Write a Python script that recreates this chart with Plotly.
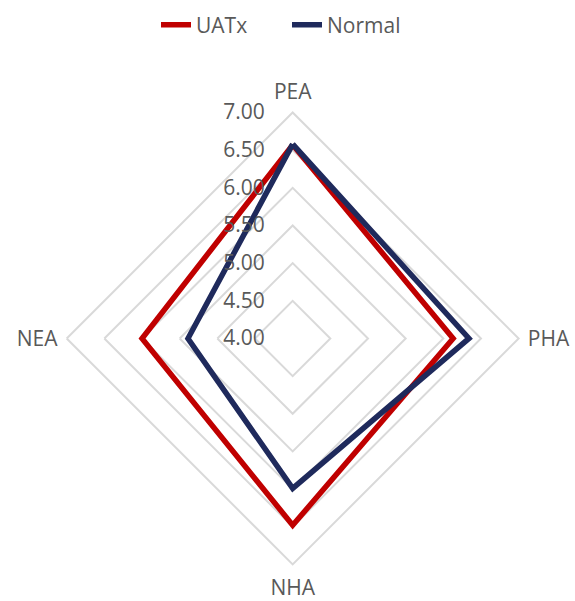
import plotly.graph_objects as go

categories = ["PEA", "PHA", "NHA", "NEA"]
uatx = [6.57, 6.13, 6.48, 6.00]
normal = [6.58, 6.34, 5.99, 5.39]
tick_vals = [4.0, 4.5, 5.0, 5.5, 6.0, 6.5, 7.0]
tick_text = ["4.00", "4.50", "5.00", "5.50", "6.00", "6.50", "7.00"]

fig = go.Figure()
fig.add_trace(go.Scatterpolar(
    r=uatx + uatx[:1], theta=categories + categories[:1], mode="lines",
    name="UATx", line=dict(color="#C00000", width=5.5)))
fig.add_trace(go.Scatterpolar(
    r=normal + normal[:1], theta=categories + categories[:1], mode="lines",
    name="Normal", line=dict(color="#1F2A5C", width=5.5)))

fig.update_layout(
    width=575, height=601,
    margin=dict(l=0, r=0, t=0, b=0),
    paper_bgcolor="white", plot_bgcolor="white",
    font=dict(family="Open Sans", size=21, color="#595959"),
    showlegend=True,
    legend=dict(orientation="h", x=156 / 575, xanchor="left", y=1 - 25 / 601,
                yanchor="middle", font=dict(size=21, color="#595959"),
                entrywidth=86),
    polar=dict(
        domain=dict(x=[0.116, 0.902], y=[0.0607, 0.813]),
        gridshape="linear",
        bgcolor="white",
        angularaxis=dict(rotation=90, direction="clockwise", showgrid=False,
                         showline=True, linecolor="#D9D9D9", linewidth=2,
                         ticks="outside", ticklen=4, tickcolor="rgba(0,0,0,0)",
                         tickfont=dict(size=21, color="#595959")),
        radialaxis=dict(range=[4, 7], angle=90, tickangle=90, tickvals=tick_vals,
                        ticktext=tick_text, showline=False,
                        ticks="outside", ticklen=20, tickcolor="rgba(0,0,0,0)",
                        gridcolor="#D9D9D9", gridwidth=2, side="counterclockwise",
                        tickfont=dict(size=21, color="#595959")),
    ),
)
fig.write_html("out.html", config={"displayModeBar": False},
               post_script="document.body.style.margin='0';")
